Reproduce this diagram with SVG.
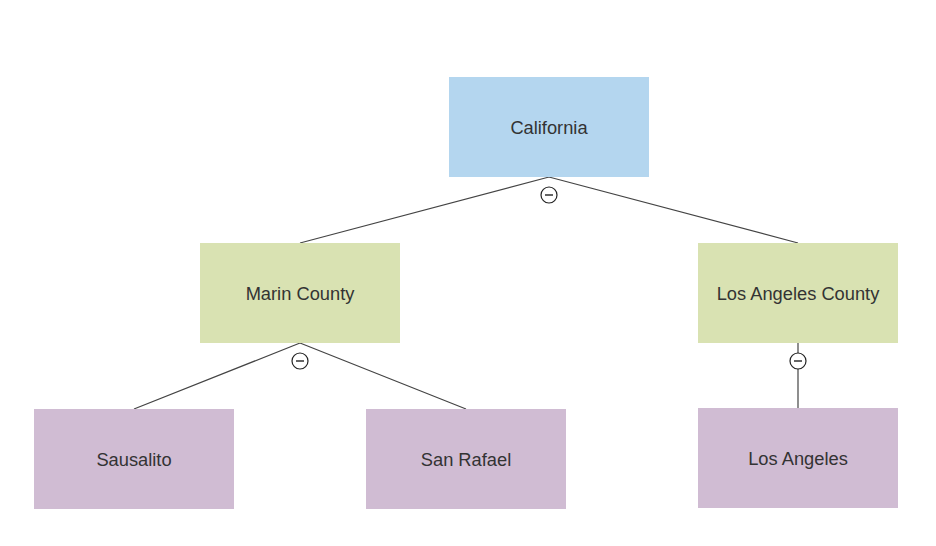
<svg xmlns="http://www.w3.org/2000/svg" width="936" height="546" viewBox="0 0 936 546">
  <style>
    .box { stroke: none; }
    .l0 { fill: #b4d6ef; }
    .l1 { fill: #d9e2b2; }
    .l2 { fill: #d0bcd3; }
    .label { font-family: "Liberation Sans", Arial, sans-serif; font-size: 18.3px; fill: #333333; text-anchor: middle; dominant-baseline: central; }
    .edge { stroke: #444444; stroke-width: 1.2; fill: none; }
    .toggle circle { fill: #ffffff; stroke: #222222; stroke-width: 1.2; }
    .toggle line { stroke: #222222; stroke-width: 1.4; }
  </style>
  <rect width="936" height="546" fill="#ffffff"/>

  <g id="connectors">
    <path class="edge" d="M549,177 L300,243 M549,177 L798,243"/>
    <path class="edge" d="M300,343 L134,409 M300,343 L466,409"/>
    <path class="edge" d="M798,343 L798,408"/>
    <g class="toggle">
      <circle cx="549" cy="195" r="8"/>
      <line x1="545" y1="195" x2="553" y2="195"/>
    </g>
    <g class="toggle">
      <circle cx="300" cy="361" r="8"/>
      <line x1="296" y1="361" x2="304" y2="361"/>
    </g>
    <g class="toggle">
      <circle cx="798" cy="361" r="8"/>
      <line x1="794" y1="361" x2="802" y2="361"/>
    </g>
  </g>

  <g id="california">
    <rect class="box l0" x="449" y="77" width="200" height="100"/>
    <text class="label" x="549" y="127">California</text>
  </g>
  <g id="marin-county">
    <rect class="box l1" x="200" y="243" width="200" height="100"/>
    <text class="label" x="300" y="293">Marin County</text>
  </g>
  <g id="los-angeles-county">
    <rect class="box l1" x="698" y="243" width="200" height="100"/>
    <text class="label" x="798" y="293">Los Angeles County</text>
  </g>
  <g id="sausalito">
    <rect class="box l2" x="34" y="409" width="200" height="100"/>
    <text class="label" x="134" y="459">Sausalito</text>
  </g>
  <g id="san-rafael">
    <rect class="box l2" x="366" y="409" width="200" height="100"/>
    <text class="label" x="466" y="459">San Rafael</text>
  </g>
  <g id="los-angeles">
    <rect class="box l2" x="698" y="408" width="200" height="100"/>
    <text class="label" x="798" y="458">Los Angeles</text>
  </g>
</svg>
